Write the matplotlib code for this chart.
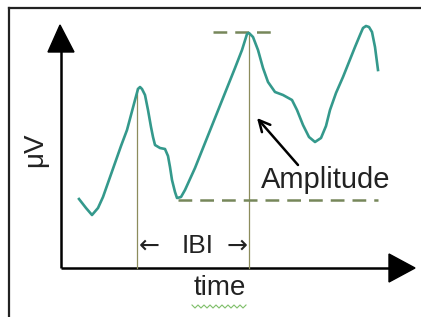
import matplotlib.pyplot as plt
from matplotlib.patches import Polygon

plt.rcParams['font.family'] = ['Liberation Sans', 'DejaVu Sans']

# waveform (pixel coords, y downwards)
wave_x = [79, 86, 92, 98, 103, 109, 115, 121, 127, 131, 135, 138, 140, 142, 145, 148, 151,
          153, 155, 160, 165, 168, 170, 172, 175, 177, 181, 185, 195, 205, 215, 225,
          235, 242, 247, 249, 253, 258, 263, 268, 275, 283, 292, 297, 303, 309, 315, 321,
          326, 330, 336, 343, 349, 355, 360, 363, 366, 369, 372, 375, 378]
wave_y = [199, 208, 215, 208, 197, 180, 163, 146, 130, 115, 100, 89, 87, 89, 95, 110, 127,
          137, 145, 148, 149, 156, 167, 180, 192, 198, 197, 190, 168, 143, 118, 93,
          68, 50, 34, 33, 37, 50, 68, 82, 92, 95, 100, 110, 125, 137, 142, 138,
          126, 110, 93, 77, 62, 47, 35, 28, 26, 27, 32, 47, 70]

peak_x = [137, 249]          # IBI markers
peak_top = [88, 33]
axis_y = 268
amp_top = 32
amp_low = 200

fig = plt.figure(figsize=(4.21, 3.17), dpi=100)
ax = fig.add_axes([0, 0, 1, 1])
ax.set_xlim(0, 421)
ax.set_ylim(317, 0)
ax.axis('off')

# frame
ax.plot([9, 9], [317, 8], color='#222222', lw=1.6)
ax.plot([9, 421], [8, 8], color='#222222', lw=1.6)

# axes with arrow heads
ax.plot([61, 61], [50, axis_y], color='black', lw=1.8, solid_capstyle='butt')
ax.plot([61, 392], [axis_y, axis_y], color='black', lw=1.8, solid_capstyle='butt')
ax.add_patch(Polygon([[60, 25], [48, 52], [74, 52]], closed=True, color='black'))
ax.add_patch(Polygon([[415, axis_y], [389, 254], [389, 282]], closed=True, color='black'))

# olive guide lines
for px, pt in zip(peak_x, peak_top):
    ax.plot([px, px], [pt, axis_y], color='#8c8c5c', lw=0.9)
ax.plot([213, 275], [amp_top, amp_top], color='#76875a', lw=1.8, dashes=(5.5, 3.2))
ax.plot([178, 378], [amp_low, amp_low], color='#76875a', lw=1.8, dashes=(5.5, 3.2))

# signal
ax.plot(wave_x, wave_y, color='#34998c', lw=1.9, solid_joinstyle='round')

# amplitude pointer
ax.annotate('', xy=(257, 118), xytext=(298, 165),
            arrowprops=dict(arrowstyle='->', color='black', lw=1.8,
                            mutation_scale=20, shrinkA=0, shrinkB=0))

ax.text(326, 180, 'Amplitude', fontsize=21, ha='center', va='center', color='#222222')
ax.text(139, 246, '\u2190', fontsize=18, ha='left', va='center', color='#222222',
        family='DejaVu Sans')
ax.text(198, 246, 'IBI', fontsize=19, ha='center', va='center', color='#222222')
ax.text(248, 246, '\u2192', fontsize=18, ha='right', va='center', color='#222222',
        family='DejaVu Sans')
ax.text(220, 288, 'time', fontsize=20, ha='center', va='center', color='#222222')
ax.text(35, 150, '\u03bcV', fontsize=20, ha='center', va='center', rotation=90, color='#222222')

# spell-check squiggle under "time"
sq_x = [192, 195, 198, 201, 204, 207, 210, 213, 216, 219, 222, 225, 228, 231, 234, 237, 240, 243, 246]
sq_y = [305, 308, 305, 308, 305, 308, 305, 308, 305, 308, 305, 308, 305, 308, 305, 308, 305, 308, 305]
ax.plot(sq_x, sq_y, color='#7fbf6a', lw=0.8)

fig.savefig('out.png', dpi=100)
